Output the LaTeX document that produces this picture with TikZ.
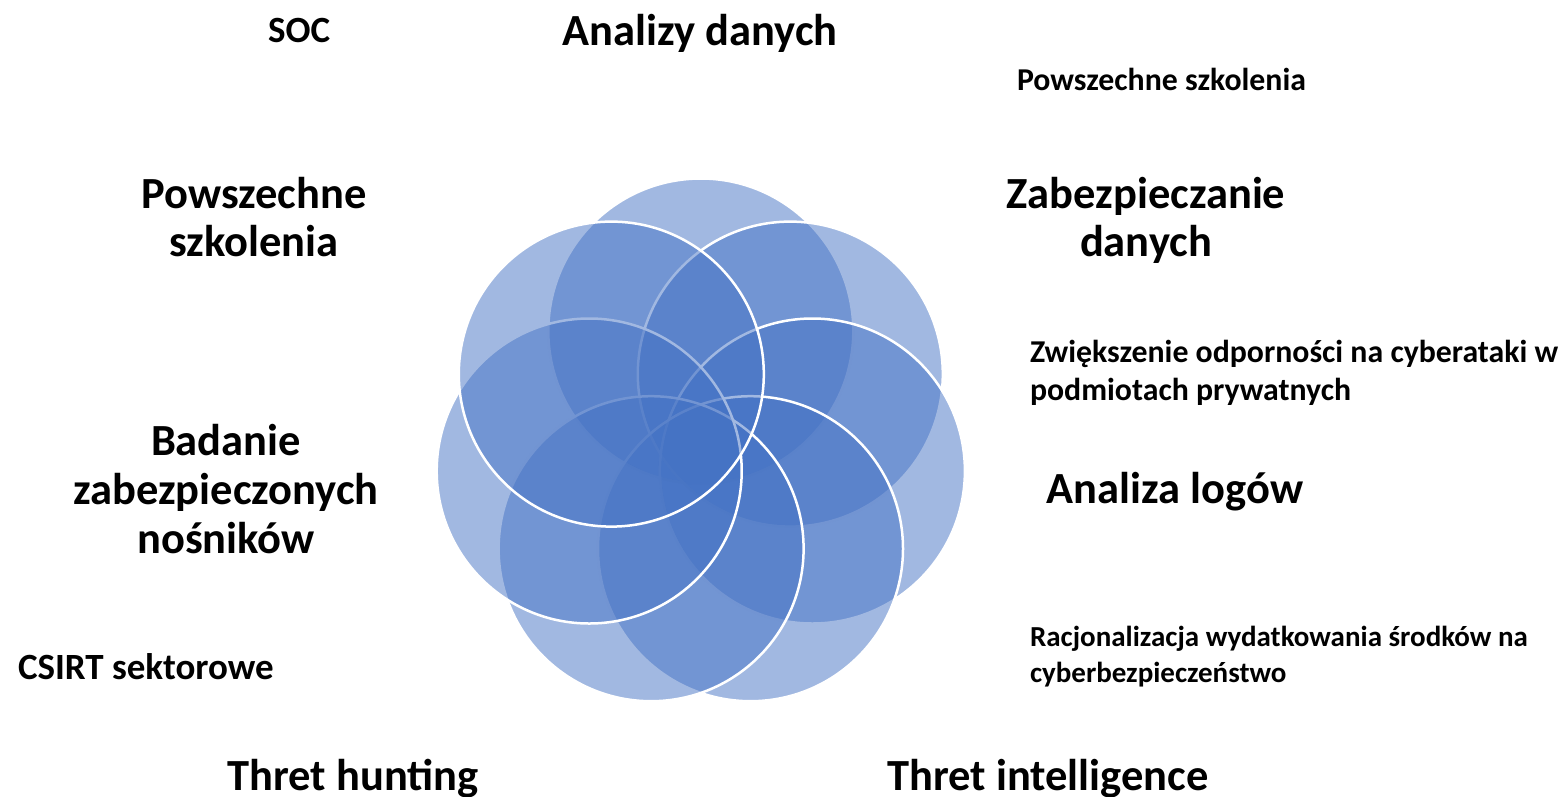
\documentclass[tikz,border=0pt]{standalone}
\usepackage{fontspec}
\setmainfont{Carlito}
\definecolor{petalblue}{HTML}{4472C4}
\begin{document}
\begin{tikzpicture}[x=1pt,y=-1pt,
  petal/.style={circle,minimum size=305pt,inner sep=0pt,outer sep=0pt,
    fill=petalblue,fill opacity=0.5,draw=white,line width=2.5pt},
  lbl/.style={inner sep=0pt,outer sep=0pt,text=black},
  big/.style={lbl,font=\fontsize{44.5}{48}\selectfont\bfseries,align=center},
  bigwide/.style={lbl,font=\fontsize{44.5}{49}\selectfont\bfseries,align=center},
  mid/.style={lbl,font=\fontsize{37}{40}\selectfont\bfseries},
  small/.style={lbl,font=\fontsize{31.8}{38}\selectfont\bfseries,align=left},
  smaller/.style={lbl,font=\fontsize{29}{36}\selectfont\bfseries,align=left}]
\useasboundingbox (0,0) rectangle (1565,796);
% petals, drawn clockwise from the top
\node[petal] (pA) at (700.8,331.0) {};
\node[petal] (pB) at (790.3,374.1) {};
\node[petal] (pC) at (812.4,471.0) {};
\node[petal] (pD) at (750.5,548.7) {};
\node[petal] (pE) at (651.1,548.7) {};
\node[petal] (pF) at (589.2,471.0) {};
\node[petal] (pG) at (611.3,374.1) {};
% labels (base anchor = baseline of the last line)
\node[mid,anchor=base west] (soc) at (268,42) {SOC};
\node[big,anchor=base] (analizy) at (700,45) {Analizy danych};
\node[small,anchor=base] (szkol2) at (1161.5,90) {Powszechne szkolenia};
\node[big,anchor=base] (szkol) at (254,256) {Powszechne\\szkolenia};
\node[big,anchor=base] (zabez) at (1146,256) {Zabezpieczanie\\danych};
\node[small,anchor=base west] (zwiek) at (1030,400) {Zwiększenie odporności na cyberataki w\\podmiotach prywatnych};
\node[bigwide,anchor=base] (badanie) at (226,553) {Badanie\\zabezpieczonych\\nośników};
\node[big,anchor=base] (logi) at (1175,503) {Analiza logów};
\node[smaller,anchor=base west] (racjo) at (1030,682) {Racjonalizacja wydatkowania środków na\\cyberbezpieczeństwo};
\node[mid,anchor=base west] (csirt) at (18,679) {CSIRT sektorowe};
\node[big,anchor=base] (hunt) at (353,790) {Thret hunting};
\node[big,anchor=base] (intel) at (1048,790) {Thret intelligence};
\end{tikzpicture}
\end{document}
